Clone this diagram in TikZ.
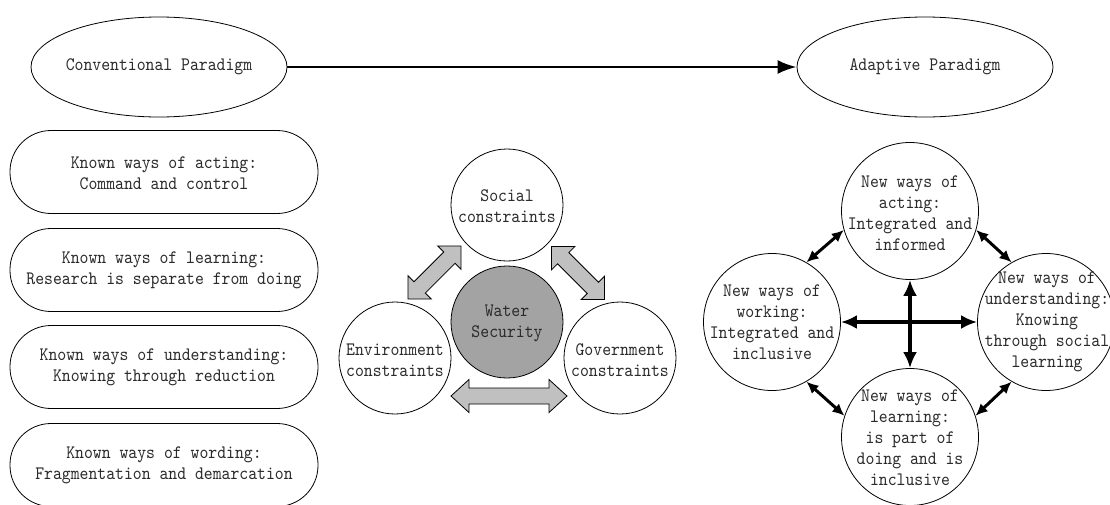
\documentclass[tikz,border=0pt]{standalone}
\usepackage{fontspec}
\newfontfamily\diagfont{lmmono10-regular.otf}[FakeStretch=0.89]
\usetikzlibrary{arrows.meta,shapes.geometric}
\definecolor{txtc}{HTML}{2A2A2A}
\definecolor{waterc}{HTML}{A3A3A3}
\definecolor{arrc}{HTML}{C0C0C0}
\tikzset{
  txt/.style={font=\diagfont\fontsize{19pt}{21pt}\selectfont, text=txtc, align=center, inner sep=0pt},
  ell/.style={draw, ellipse, line width=0.8pt, minimum width=256pt, minimum height=100pt, inner sep=0pt},
  known/.style={draw, line width=0.8pt, rounded corners=41pt, minimum width=308pt, minimum height=83pt, inner sep=0pt},
  bigcirc/.style={draw, circle, line width=0.8pt, minimum size=137pt, inner sep=0pt},
  midcirc/.style={draw, circle, line width=0.8pt, minimum size=112pt, inner sep=0pt},
  mainarrow/.style={line width=2.6pt, -{Latex[length=19pt,width=14pt]}},
  diagarrow/.style={line width=3pt, {Latex[length=12pt,width=11pt]}-{Latex[length=12pt,width=11pt]}},
  crossarrow/.style={line width=4pt, {Latex[length=16pt,width=14pt]}-{Latex[length=16pt,width=14pt]}},
  grayblock/.style={draw, line width=0.8pt, fill=arrc}
}
\newcommand\grayblockarrow[5]{% center, angle, half length, head length, half head width
  \draw[grayblock, shift={#1}, rotate=#2]
    (-#3,0) -- (-#3+#4,-#5) -- (-#3+#4,-8) -- (#3-#4,-8) -- (#3-#4,-#5) -- (#3,0)
    -- (#3-#4,#5) -- (#3-#4,8) -- (-#3+#4,8) -- (-#3+#4,#5) -- cycle;}
\begin{document}
\begin{tikzpicture}[x=1pt,y=-1pt]
\useasboundingbox (0,0) rectangle (1110,504);
% paradigms
\node[ell] (conv) at (159,67) {};
\node[txt] (convt) at (159,67) {Conventional Paradigm};
\node[ell] (adapt) at (925,67) {};
\node[txt] (adaptt) at (925,67) {Adaptive Paradigm};
\draw[mainarrow] (conv) -- (adapt);
% known ways
\node[known] (k1) at (164,172) {};
\node[txt] (k1t) at (164,173) {Known ways of acting:\\Command and control};
\node[known] (k2) at (164,270) {};
\node[txt] (k2t) at (164,270) {Known ways of learning:\\Research is separate from doing};
\node[known] (k3) at (164,367) {};
\node[txt] (k3t) at (164,367) {Known ways of understanding:\\Knowing through reduction};
\node[known] (k4) at (164,465) {};
\node[txt] (k4t) at (164,465) {Known ways of wording:\\Fragmentation and demarcation};
% middle
\node[midcirc] (soc) at (507,205) {};
\node[txt] (soct) at (507,206) {Social\\constraints};
\node[midcirc, fill=waterc] (wat) at (507,322) {};
\node[txt] (watt) at (507,323) {Water\\Security};
\node[midcirc] (env) at (395,358) {};
\node[txt] (envt) at (395,360) {Environment\\constraints};
\node[midcirc] (gov) at (620,358) {};
\node[txt] (govt) at (620,360) {Government\\constraints};
\grayblockarrow{(434.5,272.5)}{45}{37.5}{16.5}{16.5}
\grayblockarrow{(578,273)}{-45}{37.5}{16.5}{16.5}
\grayblockarrow{(509,396)}{0}{58}{18}{16.5}
% adaptive ways
\node[bigcirc] (top) at (910,211) {};
\node[txt] (topt) at (910,213) {New ways of\\acting:\\Integrated and\\informed};
\node[bigcirc] (left) at (772,322) {};
\node[txt] (leftt) at (772,322) {New ways of\\working:\\Integrated and\\inclusive};
\node[bigcirc] (right) at (1046,322) {};
\node[txt] (rightt) at (1047,322) {New ways of\\understanding:\\Knowing\\through social\\learning};
\node[bigcirc] (bot) at (910,437) {};
\node[txt] (bott) at (910,438) {New ways of\\learning:\\is part of\\doing and is\\inclusive};
\draw[diagarrow] (left.60) -- (top.196);
\draw[diagarrow] (top.-16) -- (right.120);
\draw[diagarrow] (left.-60) -- (bot.162);
\draw[diagarrow] (bot.18) -- (right.240);
\draw[crossarrow] (left.east) -- (right.west);
\draw[crossarrow] (top.south) -- (bot.north);
\end{tikzpicture}
\end{document}
